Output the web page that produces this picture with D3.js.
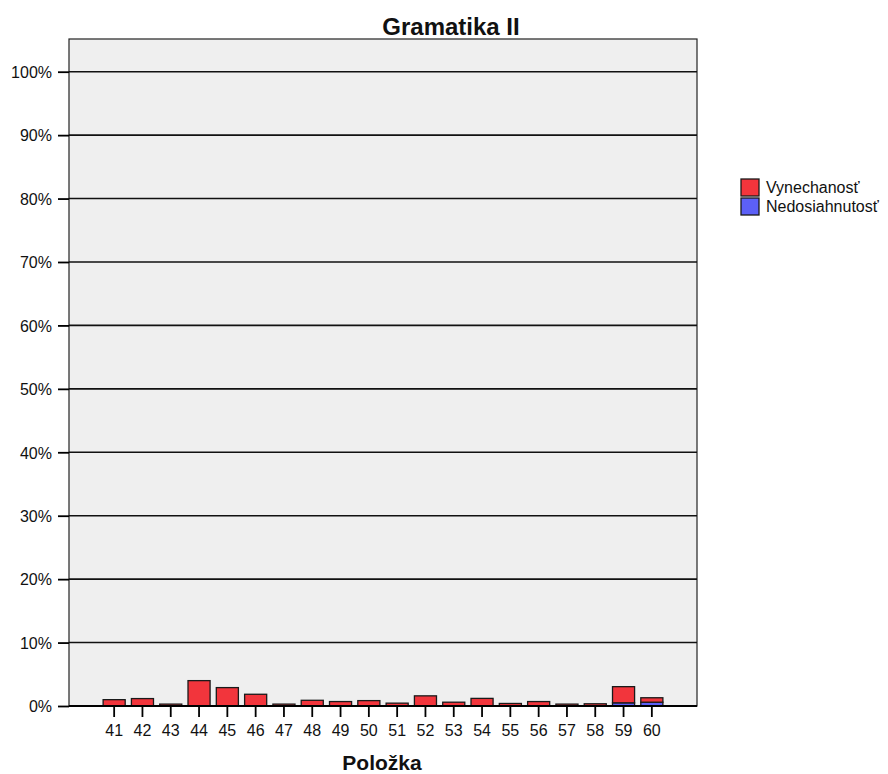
<!DOCTYPE html>
<html><head><meta charset="utf-8">
<script src="https://cdn.jsdelivr.net/npm/d3@7"></script>
<style>body{margin:0;background:#fff}svg{display:block;font-family:"Liberation Sans",Arial,sans-serif}svg text{font-family:"Liberation Sans",Arial,sans-serif}</style>
</head><body><svg id="c" width="888" height="774"></svg>
<script>
const categories = ["41","42","43","44","45","46","47","48","49","50","51","52","53","54","55","56","57","58","59","60"];
const vynechanost = [1.0,1.17,0.3,4.0,2.9,1.85,0.3,0.9,0.7,0.85,0.45,1.6,0.6,1.2,0.4,0.7,0.3,0.35,2.55,0.7];
const nedosiahnutost = [0,0,0,0,0,0,0,0,0,0,0,0,0,0,0,0,0,0,0.5,0.6];
const yTicks = [0,10,20,30,40,50,60,70,80,90,100];
const seriesNames = ["Vynechanosť","Nedosiahnutosť"];
const colors = ["#f2353c","#5c60f7"];

const svg = d3.select("#c");
const L=69, R=697, T=39, B=706;
const x = d3.scaleBand().domain(categories).range([100,666]).paddingInner(0.22).paddingOuter(0.11);
const y = d3.scaleLinear().domain([0,100]).range([B,71.7]);

svg.append("rect").attr("x",L).attr("y",T).attr("width",R-L).attr("height",B-T)
  .attr("fill","#efefef").attr("stroke","#222").attr("stroke-width",1.2);

// gridlines
svg.append("g").selectAll("line").data(yTicks.filter(d=>d>0)).join("line")
  .attr("x1",L).attr("x2",R).attr("y1",d=>y(d)).attr("y2",d=>y(d))
  .attr("stroke","#111").attr("stroke-width",1.6);

// bars (stacked)
const rows = categories.map((c,i)=>({cat:c, Nedosiahnutost:nedosiahnutost[i], Vynechanost:vynechanost[i]}));
const stack = d3.stack().keys(["Nedosiahnutost","Vynechanost"])(rows);
const colorByKey = {Vynechanost:colors[0], Nedosiahnutost:colors[1]};
stack.forEach(layer=>{
  svg.append("g").selectAll("rect").data(layer.filter(d=>d[1]-d[0]>0)).join("rect")
    .attr("x",d=>x(d.data.cat)).attr("width",x.bandwidth())
    .attr("y",d=>y(d[1])).attr("height",d=>y(d[0])-y(d[1]))
    .attr("fill",colorByKey[layer.key]).attr("stroke","#1a1a1a").attr("stroke-width",1.3);
});

// y axis
const yAxis = svg.append("g").attr("transform",`translate(${L},0)`)
  .call(d3.axisLeft(y).tickValues(yTicks).tickFormat(d=>d+"%").tickSize(11).tickSizeOuter(0));
yAxis.attr("font-family",null).attr("font-size",null);
yAxis.select(".domain").remove();
yAxis.selectAll(".tick line").attr("stroke","#000").attr("stroke-width",1.8);
yAxis.selectAll(".tick text").attr("font-size",16).attr("fill","#111").attr("x",-17).attr("dy","0.36em");

// baseline
svg.append("line").attr("x1",L).attr("x2",R).attr("y1",B).attr("y2",B).attr("stroke","#000").attr("stroke-width",2.2);

// x axis
const xAxis = svg.append("g").attr("transform",`translate(0,${B})`)
  .call(d3.axisBottom(x).tickSize(11).tickSizeOuter(0));
xAxis.attr("font-family",null).attr("font-size",null);
xAxis.select(".domain").remove();
xAxis.selectAll(".tick line").attr("stroke","#000").attr("stroke-width",1.8);
xAxis.selectAll(".tick text").attr("font-size",16).attr("fill","#111").attr("y",19);

// titles
svg.append("text").attr("x",451).attr("y",35).attr("text-anchor","middle")
  .attr("font-size",24).attr("font-weight","bold").attr("fill","#111").text("Gramatika II");
svg.append("text").attr("x",382).attr("y",770).attr("text-anchor","middle")
  .attr("font-size",21).attr("font-weight","bold").attr("fill","#111").text("Položka");

// legend
const lg = svg.append("g").attr("transform","translate(741,179)");
seriesNames.forEach((n,i)=>{
  lg.append("rect").attr("x",0).attr("y",i*19).attr("width",18).attr("height",17)
    .attr("fill",colors[i]).attr("stroke","#1a1a1a").attr("stroke-width",1.3);
  lg.append("text").attr("x",25).attr("y",i*19+14).attr("font-size",16).attr("fill","#111").text(n);
});
</script></body></html>
